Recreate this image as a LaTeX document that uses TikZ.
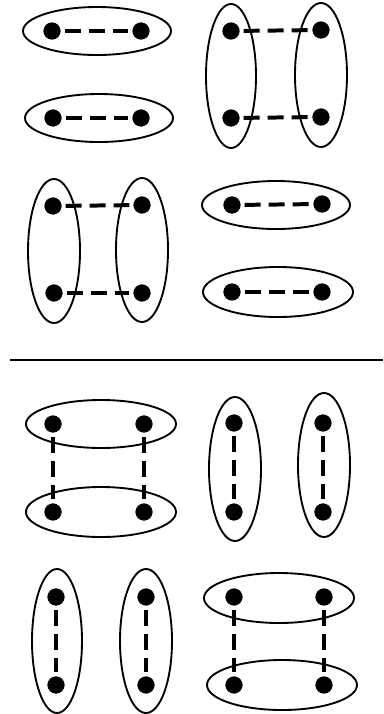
\documentclass[tikz,border=0pt]{standalone}
\usepackage{tikz}

\begin{document}
\begin{tikzpicture}[x=0.03cm, y=-0.03cm,
    dot/.style={draw, circle, fill=black, inner sep=0pt, minimum size=0.5cm},
    link/.style={line width=3.4pt, dash pattern=on 0.48cm off 0.24cm, shorten <=3.4pt, shorten >=3.4pt},
    ring/.style={line width=1.6pt}]
    \useasboundingbox (0,0) rectangle (383,714);

    % upper half, top row
    \node [dot] (a1) at (52,31) {};
    \node [dot] (a2) at (141,31) {};
    \node [dot] (a3) at (53,118) {};
    \node [dot] (a4) at (141,118) {};
    \draw [ring] (97,31) ellipse [x radius=74, y radius=24];
    \draw [ring] (99,118) ellipse [x radius=74, y radius=24];
    \draw [link] (a1) -- (a2);
    \draw [link] (a3) -- (a4);

    \node [dot] (b1) at (231,31) {};
    \node [dot] (b2) at (321,30) {};
    \node [dot] (b3) at (231,118) {};
    \node [dot] (b4) at (321,117) {};
    \draw [ring] (231,76) ellipse [x radius=25, y radius=72];
    \draw [ring] (321,75) ellipse [x radius=26, y radius=72];
    \draw [link] (b1) -- (b2);
    \draw [link] (b3) -- (b4);

    % upper half, bottom row
    \node [dot] (c1) at (53,206) {};
    \node [dot] (c2) at (142,205) {};
    \node [dot] (c3) at (54,293) {};
    \node [dot] (c4) at (142,293) {};
    \draw [ring] (54,251) ellipse [x radius=26, y radius=72];
    \draw [ring] (142,250) ellipse [x radius=26, y radius=72];
    \draw [link] (c1) -- (c2);
    \draw [link] (c3) -- (c4);

    \node [dot] (d1) at (232,205) {};
    \node [dot] (d2) at (322,204) {};
    \node [dot] (d3) at (232,292) {};
    \node [dot] (d4) at (322,292) {};
    \draw [ring] (276,205) ellipse [x radius=74, y radius=24];
    \draw [ring] (278,292) ellipse [x radius=75, y radius=25];
    \draw [link] (d1) -- (d2);
    \draw [link] (d3) -- (d4);

    % separator
    \draw [line width=1.4pt] (10,360) -- (383,360);

    % lower half, top row
    \node [dot] (e1) at (53,424) {};
    \node [dot] (e2) at (144,424) {};
    \node [dot] (e3) at (53,512) {};
    \node [dot] (e4) at (144,512) {};
    \draw [ring] (101,424) ellipse [x radius=75, y radius=24];
    \draw [ring] (101,512) ellipse [x radius=75, y radius=25];
    \draw [link] (e1) -- (e3);
    \draw [link] (e2) -- (e4);

    \node [dot] (f1) at (234,423) {};
    \node [dot] (f2) at (323,423) {};
    \node [dot] (f3) at (234,512) {};
    \node [dot] (f4) at (323,512) {};
    \draw [ring] (235,469) ellipse [x radius=26, y radius=72];
    \draw [ring] (324,465) ellipse [x radius=26, y radius=72];
    \draw [link] (f1) -- (f3);
    \draw [link] (f2) -- (f4);

    % lower half, bottom row
    \node [dot] (g1) at (56,597) {};
    \node [dot] (g2) at (146,597) {};
    \node [dot] (g3) at (56,685) {};
    \node [dot] (g4) at (146,685) {};
    \draw [ring] (57,641) ellipse [x radius=25, y radius=72];
    \draw [ring] (146,641) ellipse [x radius=26, y radius=72];
    \draw [link] (g1) -- (g3);
    \draw [link] (g2) -- (g4);

    \node [dot] (h1) at (234,597) {};
    \node [dot] (h2) at (324,597) {};
    \node [dot] (h3) at (234,685) {};
    \node [dot] (h4) at (324,685) {};
    \draw [ring] (279,598) ellipse [x radius=75, y radius=25];
    \draw [ring] (282,685) ellipse [x radius=75, y radius=25];
    \draw [link] (h1) -- (h3);
    \draw [link] (h2) -- (h4);
\end{tikzpicture}
\end{document}
